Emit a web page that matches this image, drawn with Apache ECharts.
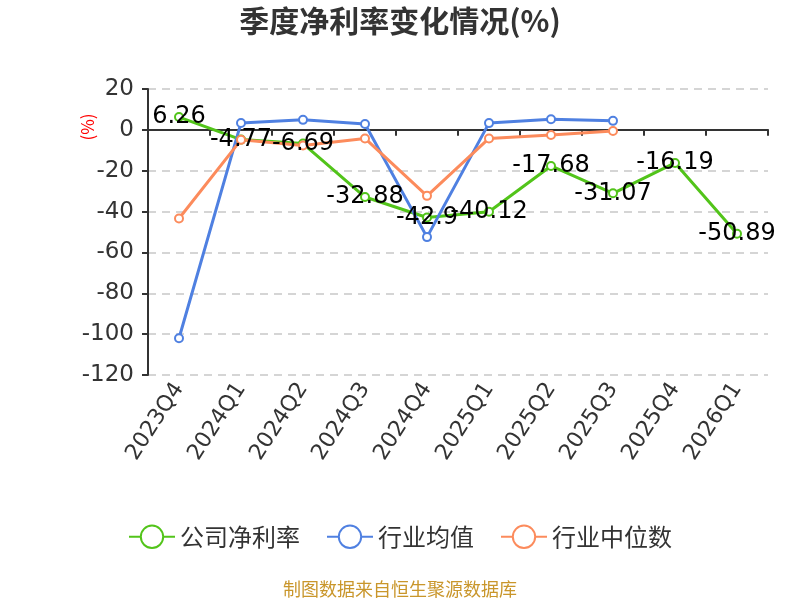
<!DOCTYPE html>
<html>
<head>
<meta charset="utf-8">
<script src="https://cdn.jsdelivr.net/npm/echarts@6/dist/echarts.min.js"></script>
<style>
  html, body { margin: 0; padding: 0; background: #fff; }
  #box { width: 800px; height: 600px; }
</style>
</head>
<body>
<div id="box"></div>
<script>
var quarters = ['2023Q4', '2024Q1', '2024Q2', '2024Q3', '2024Q4', '2025Q1', '2025Q2', '2025Q3', '2025Q4', '2026Q1'];
var companyRate = [6.26, -4.77, -6.69, -32.88, -42.9, -40.12, -17.68, -31.07, -16.19, -50.89];
var industryAvg = [-102, 3.4, 4.9, 2.9, -52.5, 3.3, 5.2, 4.4, null, null];
var industryMedian = [-43.4, -4.9, -7.7, -4.2, -32.3, -4.2, -2.5, -0.6, null, null];

var myChart = echarts.init(document.getElementById('box'));
var font = '"Noto Sans CJK SC", "Noto Sans", sans-serif';
var numFont = '"DejaVu Sans", "Noto Sans", sans-serif';

var option = {
    textStyle: { fontFamily: font },
    title: {
        text: '季度净利率变化情况(%)',
        left: 'center',
        top: 1,
        textStyle: { fontSize: 30, fontWeight: 'bold', color: '#333', fontFamily: font }
    },
    color: ['#52c41a', '#4f80e1', '#fc8b5c'],
    legend: {
        bottom: 46,
        itemWidth: 46,
        itemHeight: 28,
        itemGap: 26,
        textStyle: { fontSize: 24, color: '#333', fontFamily: font },
        data: ['公司净利率', '行业均值', '行业中位数']
    },
    graphic: [
        {
            type: 'text',
            x: 88,
            y: 127,
            rotation: Math.PI / 2,
            style: {
                text: '(%)',
                fill: '#ff0000',
                fontSize: 17,
                fontFamily: font,
                align: 'center',
                verticalAlign: 'middle'
            }
        },
        {
            type: 'text',
            left: 'center',
            bottom: 2,
            style: {
                text: '制图数据来自恒生聚源数据库',
                fill: '#c9962b',
                fontSize: 18,
                fontFamily: font
            }
        }
    ],
    grid: { left: 148, right: 32, top: 89, bottom: 225 },
    xAxis: {
        type: 'category',
        data: quarters,
        axisLine: { lineStyle: { color: '#333', width: 2 } },
        axisTick: { show: true, length: 6, lineStyle: { color: '#333', width: 2 } },
        axisLabel: { rotate: 57, fontSize: 22, color: '#333', margin: 10, interval: 0, fontFamily: numFont }
    },
    yAxis: {
        type: 'value',
        min: -120,
        max: 20,
        interval: 20,
        axisLine: { show: true, lineStyle: { color: '#333', width: 2 } },
        axisTick: { show: true, length: 6, lineStyle: { color: '#333', width: 2 } },
        axisLabel: { fontSize: 23, color: '#333', margin: 14, fontFamily: numFont },
        splitLine: { lineStyle: { type: [8, 6], color: '#c8c8c8', width: 1.5 } }
    },
    series: [
        {
            name: '公司净利率',
            type: 'line',
            data: companyRate,
            symbol: 'emptyCircle',
            symbolSize: 8,
            lineStyle: { width: 3 },
            z: 3,
            label: {
                show: true,
                position: 'inside',
                fontSize: 24,
                color: '#000',
                fontFamily: numFont
            }
        },
        {
            name: '行业均值',
            type: 'line',
            data: industryAvg,
            symbol: 'emptyCircle',
            symbolSize: 8,
            lineStyle: { width: 3 }
        },
        {
            name: '行业中位数',
            type: 'line',
            data: industryMedian,
            symbol: 'emptyCircle',
            symbolSize: 8,
            lineStyle: { width: 3 }
        }
    ]
};

myChart.setOption(option);
</script>
</body>
</html>
